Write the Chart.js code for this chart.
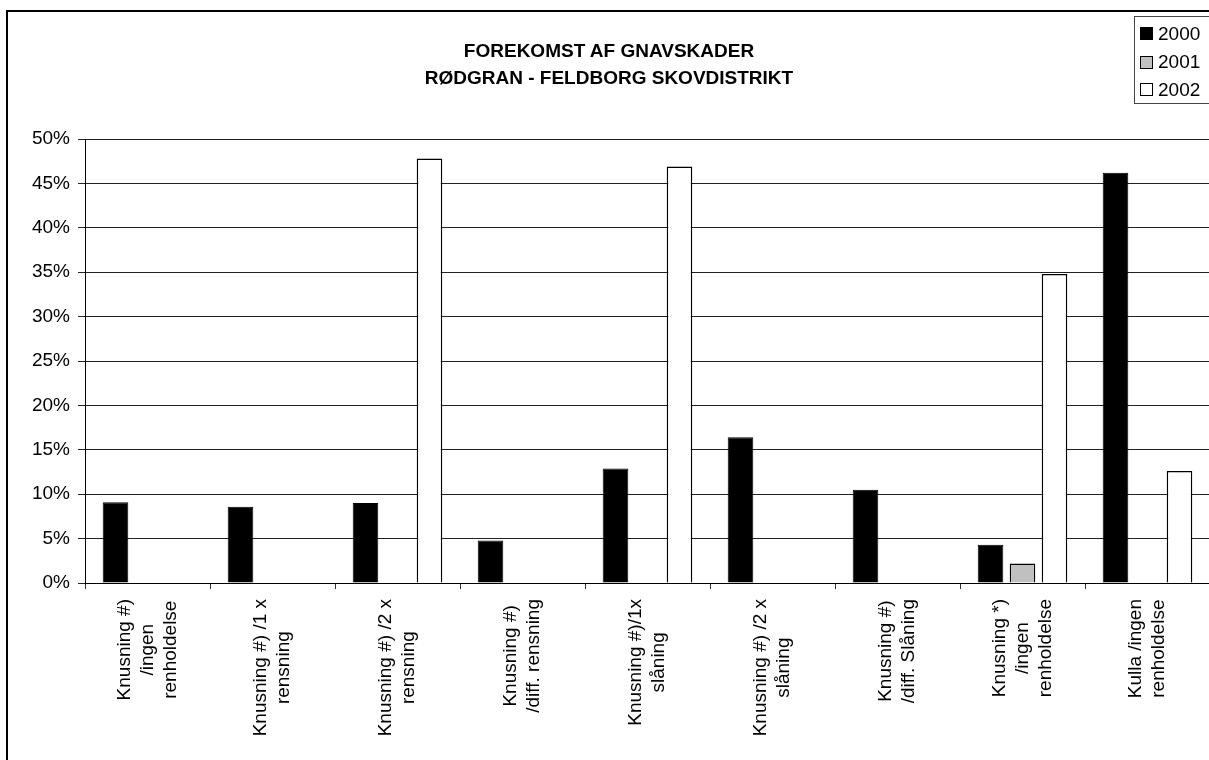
<!DOCTYPE html>
<html><head><meta charset="utf-8">
<script src="https://cdn.jsdelivr.net/npm/chart.js@4/dist/chart.umd.min.js"></script>
<style>
html,body{margin:0;padding:0;background:#fff;overflow:hidden;width:1209px;height:760px}
#wrap{position:relative;width:1209px;height:760px;overflow:hidden}
canvas{position:absolute;left:0;top:0}
#frame{position:absolute;left:6px;top:10px;width:1300px;height:800px;border-top:2px solid #000;border-left:2px solid #000;pointer-events:none}
#title{position:absolute;left:0;width:1218px;top:37px;text-align:center;font:bold 19px "Liberation Sans",Arial,sans-serif;line-height:27px;color:#000}
#legend{position:absolute;left:1134px;top:16px;width:90px;height:86px;border:1px solid #444;background:#fff;font:19px "Liberation Sans",Arial,sans-serif;color:#000}
.item{position:absolute;left:5px;height:22px;display:flex;align-items:center;white-space:nowrap}
.sw{width:11px;height:11px;border:1px solid #000;margin-right:5px;box-sizing:content-box}
</style>
</head>
<body>
<div id="wrap">
<canvas id="c" width="1210" height="760" style="width:1210px;height:760px"></canvas>
<div id="frame"></div>
<div id="title">FOREKOMST AF GNAVSKADER<br>RØDGRAN - FELDBORG SKOVDISTRIKT</div>
<div id="legend"></div>
</div>
<script>
const categories = [
  ["Knusning #)", "/ingen", "renholdelse"],
  ["Knusning #) /1 x", "rensning"],
  ["Knusning #) /2 x", "rensning"],
  ["Knusning #)", "/diff. rensning"],
  ["Knusning #)/1x", "slåning"],
  ["Knusning #) /2 x", "slåning"],
  ["Knusning #)", "/diff. Slåning"],
  ["Knusning *)", "/ingen", "renholdelse"],
  ["Kulla /ingen", "renholdelse"]
];
const seriesNames = ["2000", "2001", "2002"];
const values2000 = [9.1, 8.6, 9.0, 4.8, 12.9, 16.4, 10.5, 4.3, 46.2];
const values2001 = [null, null, null, null, null, null, null, 2.2, null];
const values2002 = [null, null, 47.8, null, 46.9, null, null, 34.8, 12.6];
const yMin = 0, yMax = 50, yStep = 5;

const FONT = '"Liberation Sans", Arial, sans-serif';
const fills = ["#000000", "#c0c0c0", "#ffffff"];

const xLabelPlugin = {
  id: 'xlabels',
  afterDraw(chart) {
    const ctx = chart.ctx, xs = chart.scales.x;
    const LH = 23;
    ctx.save();
    ctx.font = '19px ' + FONT;
    ctx.fillStyle = '#000';
    ctx.textAlign = 'center';
    ctx.textBaseline = 'middle';
    chart.data.labels.forEach((lab, i) => {
      const lines = Array.isArray(lab) ? lab : [lab];
      const w = Math.max(...lines.map(l => ctx.measureText(l).width));
      const x = xs.getPixelForValue(i);
      const yc = xs.top + 16 + w / 2;
      ctx.save();
      ctx.translate(x, yc);
      ctx.rotate(-Math.PI / 2);
      lines.forEach((l, j) => ctx.fillText(l, 0, (j - (lines.length - 1) / 2) * LH));
      ctx.restore();
    });
    ctx.restore();
  }
};

const chart = new Chart(document.getElementById('c'), {
  type: 'bar',
  data: {
    labels: categories,
    datasets: [
      { label: seriesNames[0], data: values2000, backgroundColor: fills[0], borderColor: '#000', borderWidth: 1 },
      { label: seriesNames[1], data: values2001, backgroundColor: fills[1], borderColor: '#000', borderWidth: 1.5 },
      { label: seriesNames[2], data: values2002, backgroundColor: fills[2], borderColor: '#000', borderWidth: 1.5 }
    ]
  },
  options: {
    responsive: false,
    animation: false,
    devicePixelRatio: 1,
    datasets: { bar: { categoryPercentage: 0.768, barPercentage: 0.8 } },
    layout: { padding: { top: 139, left: 0, right: 0, bottom: 0 } },
    plugins: { legend: { display: false }, title: { display: false }, tooltip: { enabled: false } },
    scales: {
      x: {
        offset: true,
        grid: { display: true, offset: true, drawOnChartArea: false, drawTicks: true, tickLength: 6, color: '#333' },
        border: { color: '#000', width: 1 },
        ticks: { display: false },
        afterFit(s) { s.height = 177; }
      },
      y: {
        min: yMin, max: yMax,
        ticks: { stepSize: yStep, callback: v => v + '%', color: '#000', font: { family: FONT, size: 19 }, padding: 8 },
        grid: { color: '#222', lineWidth: 1, tickLength: 7 },
        border: { color: '#000', width: 1 },
        afterFit(s) { s.width = 85; }
      }
    }
  },
  plugins: [xLabelPlugin]
});

const legend = document.getElementById('legend');
const rowCenters = [16.5, 45, 72.5];
chart.data.datasets.forEach((ds, i) => {
  const it = document.createElement('div');
  it.className = 'item';
  it.style.top = (rowCenters[i] - 11) + 'px';
  const sw = document.createElement('span');
  sw.className = 'sw';
  sw.style.background = ds.backgroundColor;
  const tx = document.createElement('span');
  tx.textContent = ds.label;
  it.appendChild(sw); it.appendChild(tx);
  legend.appendChild(it);
});
</script>
</body></html>
